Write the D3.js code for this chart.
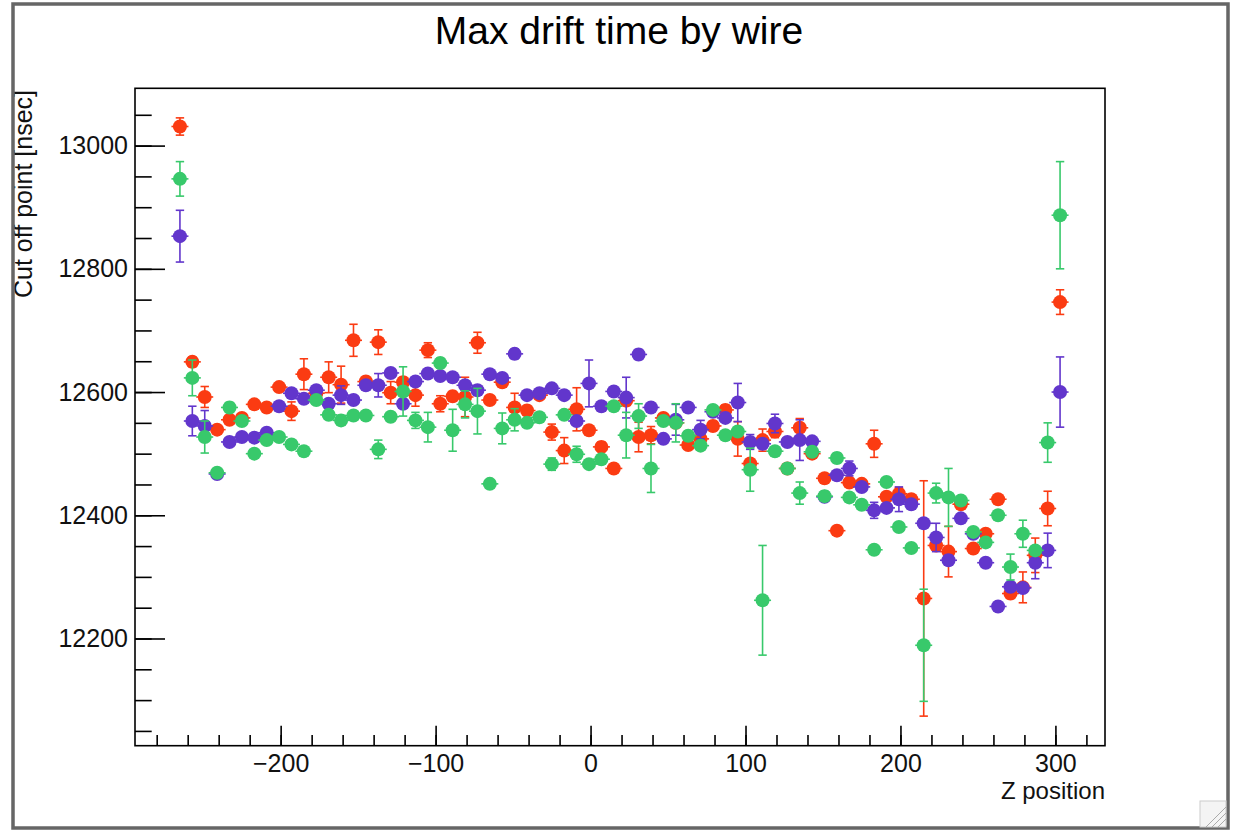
<!DOCTYPE html>
<html>
<head>
<meta charset="utf-8">
<script src="https://cdn.jsdelivr.net/npm/d3@7"></script>
<style>
  body { margin: 0; background: #fff; }
  text { font-family: "Liberation Sans", Arial, sans-serif; }
</style>
</head>
<body>
<div id="chart"></div>
<script>
///////////// data /////////////////

// wire z positions
const zPos = [-265, -257, -249, -241, -233, -225, -217, -209, -201, -193, -185, -177,
  -169, -161, -153, -145, -137, -129, -121, -113, -105, -97, -89, -81, -73, -65, -57,
  -49, -41, -33, -25, -17, -9, -1, 7, 15, 23, 31, 39, 47, 55, 63, 71, 79, 87, 95, 103,
  111, 119, 127, 135, 143, 151, 159, 167, 175, 183, 191, 199, 207, 215, 223, 231, 239,
  247, 255, 263, 271, 279, 287, 295, 303];

const redVals = [13031, 12649, 12592, 12539, 12555, 12558, 12580, 12575, 12608, 12569,
  12629, 12598, 12624, 12612, 12684, 12617, 12681, 12599, 12616, 12595, 12668, 12581,
  12593, 12592, 12680, 12587, 12616, 12575, 12570, 12595, 12535, 12505, 12572, 12538,
  12511, 12476, 12586, 12527, 12530, 12558, 12550, 12514, 12524, 12545, 12571, 12524,
  12484, 12522, 12536, 12476, 12542, 12500, 12460, 12375, 12453, 12451, 12516, 12430,
  12435, 12426, 12265, 12351, 12341, 12418, 12346, 12370, 12426, 12273, 12283, 12335,
  12411, 12746];
const redErr = [14, 8, 17, 6, 6, 6, 6, 6, 6, 15, 25, 6, 25, 30, 26, 8, 20, 18, 8, 18,
  12, 13, 8, 32, 17, 6, 8, 23, 8, 6, 13, 21, 35, 6, 8, 6, 8, 24, 14, 6, 6, 6, 8, 8, 8,
  28, 6, 18, 10, 6, 15, 6, 6, 6, 6, 6, 22, 6, 10, 6, 191, 8, 41, 8, 6, 6, 6, 8, 25, 28,
  28, 20];

const purpleVals = [12853, 12553, 12545, 12467, 12519, 12527, 12526, 12534, 12577, 12598,
  12589, 12603, 12581, 12595, 12587, 12611, 12611, 12631, 12581, 12617, 12630, 12626,
  12624, 12611, 12603, 12629, 12623, 12662, 12595, 12598, 12606, 12595, 12553, 12614,
  12577, 12601, 12591, 12661, 12575, 12524, 12555, 12575, 12539, 12568, 12558, 12583,
  12519, 12516, 12549, 12519, 12522, 12520, 12430, 12465, 12476, 12446, 12408, 12412,
  12426, 12418, 12387, 12364, 12327, 12395, 12370, 12323, 12252, 12284, 12282, 12323,
  12343, 12600];
const purpleErr = [42, 24, 25, 6, 6, 6, 6, 6, 6, 6, 6, 6, 6, 15, 6, 6, 19, 6, 6, 6, 6,
  6, 6, 6, 6, 6, 6, 8, 6, 6, 6, 6, 6, 38, 6, 6, 33, 8, 6, 6, 25, 6, 15, 6, 6, 31, 12,
  8, 15, 6, 33, 6, 6, 6, 12, 6, 13, 6, 20, 6, 6, 23, 8, 6, 6, 6, 6, 6, 6, 26, 28, 57];

const greenVals = [12946, 12623, 12527, 12469, 12575, 12553, 12500, 12522, 12527, 12515,
  12504, 12587, 12563, 12554, 12562, 12562, 12507, 12560, 12601, 12554, 12543, 12647,
  12538, 12580, 12569, 12451, 12541, 12555, 12550, 12559, 12483, 12563, 12499, 12483,
  12491, 12577, 12530, 12561, 12476, 12553, 12550, 12529, 12513, 12571, 12530, 12536,
  12474, 12262, 12504, 12476, 12436, 12503, 12431, 12493, 12429, 12417, 12344, 12454,
  12381, 12347, 12189, 12436, 12429, 12424, 12373, 12356, 12400, 12316, 12370, 12343,
  12518, 12887];
const greenErr = [28, 29, 26, 6, 8, 6, 6, 6, 6, 6, 6, 6, 6, 8, 6, 6, 15, 6, 40, 13, 24,
  8, 34, 22, 37, 6, 25, 18, 6, 6, 10, 6, 13, 6, 6, 6, 37, 20, 39, 6, 31, 8, 6, 6, 6, 6,
  35, 89, 6, 6, 18, 6, 8, 8, 6, 6, 6, 6, 6, 6, 91, 16, 47, 6, 6, 6, 6, 21, 22, 6, 32, 87];

const xMajorTicks = [-200, -100, 0, 100, 200, 300];
const yMajorTicks = [12200, 12400, 12600, 12800, 13000];

// drawing order is the same as in the original (red under purple under green)
const seriesList = [
  { name: "red", vals: redVals, err: redErr, color: "#fb3b12" },
  { name: "purple", vals: purpleVals, err: purpleErr, color: "#6236cc" },
  { name: "green", vals: greenVals, err: greenErr, color: "#38c96b" }
];

///////////// chart /////////////////

const W = 1233, H = 831;
const frame = { left: 135, right: 1105, top: 88.3, bottom: 745.7 };

const svg = d3.select("#chart")
  .append("svg")
  .attr("width", W)
  .attr("height", H);

const x = d3.scaleLinear().domain([-294, 332]).range([frame.left, frame.right]);
const y = d3.scaleLinear().domain([12026, 13093]).range([frame.bottom, frame.top]);

// clip so the y title gets cut by the canvas border like in the original
svg.append("clipPath").attr("id", "inner")
  .append("rect").attr("x", 14).attr("y", 5).attr("width", 1212).attr("height", 822);

const g = svg.append("g").attr("clip-path", "url(#inner)");

// title
g.append("text")
  .attr("x", 619)
  .attr("y", 44)
  .attr("text-anchor", "middle")
  .style("font-size", "39px")
  .text("Max drift time by wire");

// minor ticks x
g.append("g")
  .attr("transform", `translate(0,${frame.bottom})`)
  .call(d3.axisBottom(x).tickValues(d3.range(-280, 321, 20)).tickSizeInner(-10.7).tickSizeOuter(0).tickFormat(""))
  .call(a => a.select(".domain").remove());
// major ticks x
g.append("g")
  .attr("class", "xaxis")
  .attr("transform", `translate(0,${frame.bottom})`)
  .call(d3.axisBottom(x).tickValues(xMajorTicks).tickSizeInner(-20).tickSizeOuter(0).tickPadding(9))
  .call(a => a.select(".domain").remove());

// minor ticks y
g.append("g")
  .attr("transform", `translate(${frame.left},0)`)
  .call(d3.axisLeft(y).tickValues(d3.range(12050, 13051, 50)).tickSizeInner(-16.7).tickSizeOuter(0).tickFormat(""))
  .call(a => a.select(".domain").remove());
// major ticks y
g.append("g")
  .attr("class", "yaxis")
  .attr("transform", `translate(${frame.left},0)`)
  .call(d3.axisLeft(y).tickValues(yMajorTicks).tickSizeInner(-30).tickSizeOuter(0).tickPadding(7).tickFormat(d3.format("d")))
  .call(a => a.select(".domain").remove());

g.selectAll(".tick line").attr("stroke", "#000").attr("stroke-width", 1.6);
g.selectAll(".xaxis text, .yaxis text")
  .style("font-size", "25px")
  .style("font-family", "'Liberation Sans', Arial, sans-serif")
  .attr("fill", "#111");

// plot frame
g.append("rect")
  .attr("x", frame.left)
  .attr("y", frame.top)
  .attr("width", frame.right - frame.left)
  .attr("height", frame.bottom - frame.top)
  .attr("fill", "none")
  .attr("stroke", "#000")
  .attr("stroke-width", 1.6);

// axis titles
g.append("text")
  .attr("x", frame.right)
  .attr("y", 799)
  .attr("text-anchor", "end")
  .style("font-size", "24px")
  .attr("fill", "#111")
  .text("Z position");

g.append("text")
  .attr("transform", "translate(32,90) rotate(-90)")
  .attr("text-anchor", "end")
  .style("font-size", "25px")
  .attr("fill", "#111")
  .text("Cut off point [nsec]");

// points with error bars
const capW = 4.2;
seriesList.forEach(s => {
  const pts = zPos.map((z, i) => ({ z: z, v: s.vals[i], e: s.err[i] }));
  const grp = g.append("g").attr("class", "series-" + s.name);

  let bars = grp.selectAll(".eb").data(pts).enter().append("g").attr("class", "eb")
    .attr("stroke", s.color).attr("stroke-width", 1.6);
  bars.append("line")
    .attr("x1", d => x(d.z)).attr("x2", d => x(d.z))
    .attr("y1", d => y(d.v + d.e)).attr("y2", d => y(d.v - d.e));
  bars.append("line")
    .attr("x1", d => x(d.z) - capW).attr("x2", d => x(d.z) + capW)
    .attr("y1", d => y(d.v + d.e)).attr("y2", d => y(d.v + d.e));
  bars.append("line")
    .attr("x1", d => x(d.z) - capW).attr("x2", d => x(d.z) + capW)
    .attr("y1", d => y(d.v - d.e)).attr("y2", d => y(d.v - d.e));
  // little horizontal nubs ROOT leaves round each marker
  bars.append("line")
    .attr("x1", d => x(d.z) - 8.5).attr("x2", d => x(d.z) + 8.5)
    .attr("y1", d => y(d.v)).attr("y2", d => y(d.v));

  grp.selectAll("circle").data(pts).enter().append("circle")
    .attr("cx", d => x(d.z))
    .attr("cy", d => y(d.v))
    .attr("r", 7)
    .attr("fill", s.color);
});

// canvas border
svg.append("rect")
  .attr("x", 13).attr("y", 4)
  .attr("width", 1215).attr("height", 824)
  .attr("fill", "none")
  .attr("stroke", "#666")
  .attr("stroke-width", 3.5);

// resize grip in the corner
const grip = svg.append("g").attr("stroke", "#aaa").attr("stroke-width", 1);
grip.append("rect").attr("x", 1200).attr("y", 801).attr("width", 26).attr("height", 26)
  .attr("fill", "#f4f4f4").attr("stroke", "#ccc");
[8, 14, 20].forEach(o => {
  grip.append("line").attr("x1", 1226 - o).attr("y1", 827).attr("x2", 1226).attr("y2", 827 - o);
});
</script>
</body>
</html>
